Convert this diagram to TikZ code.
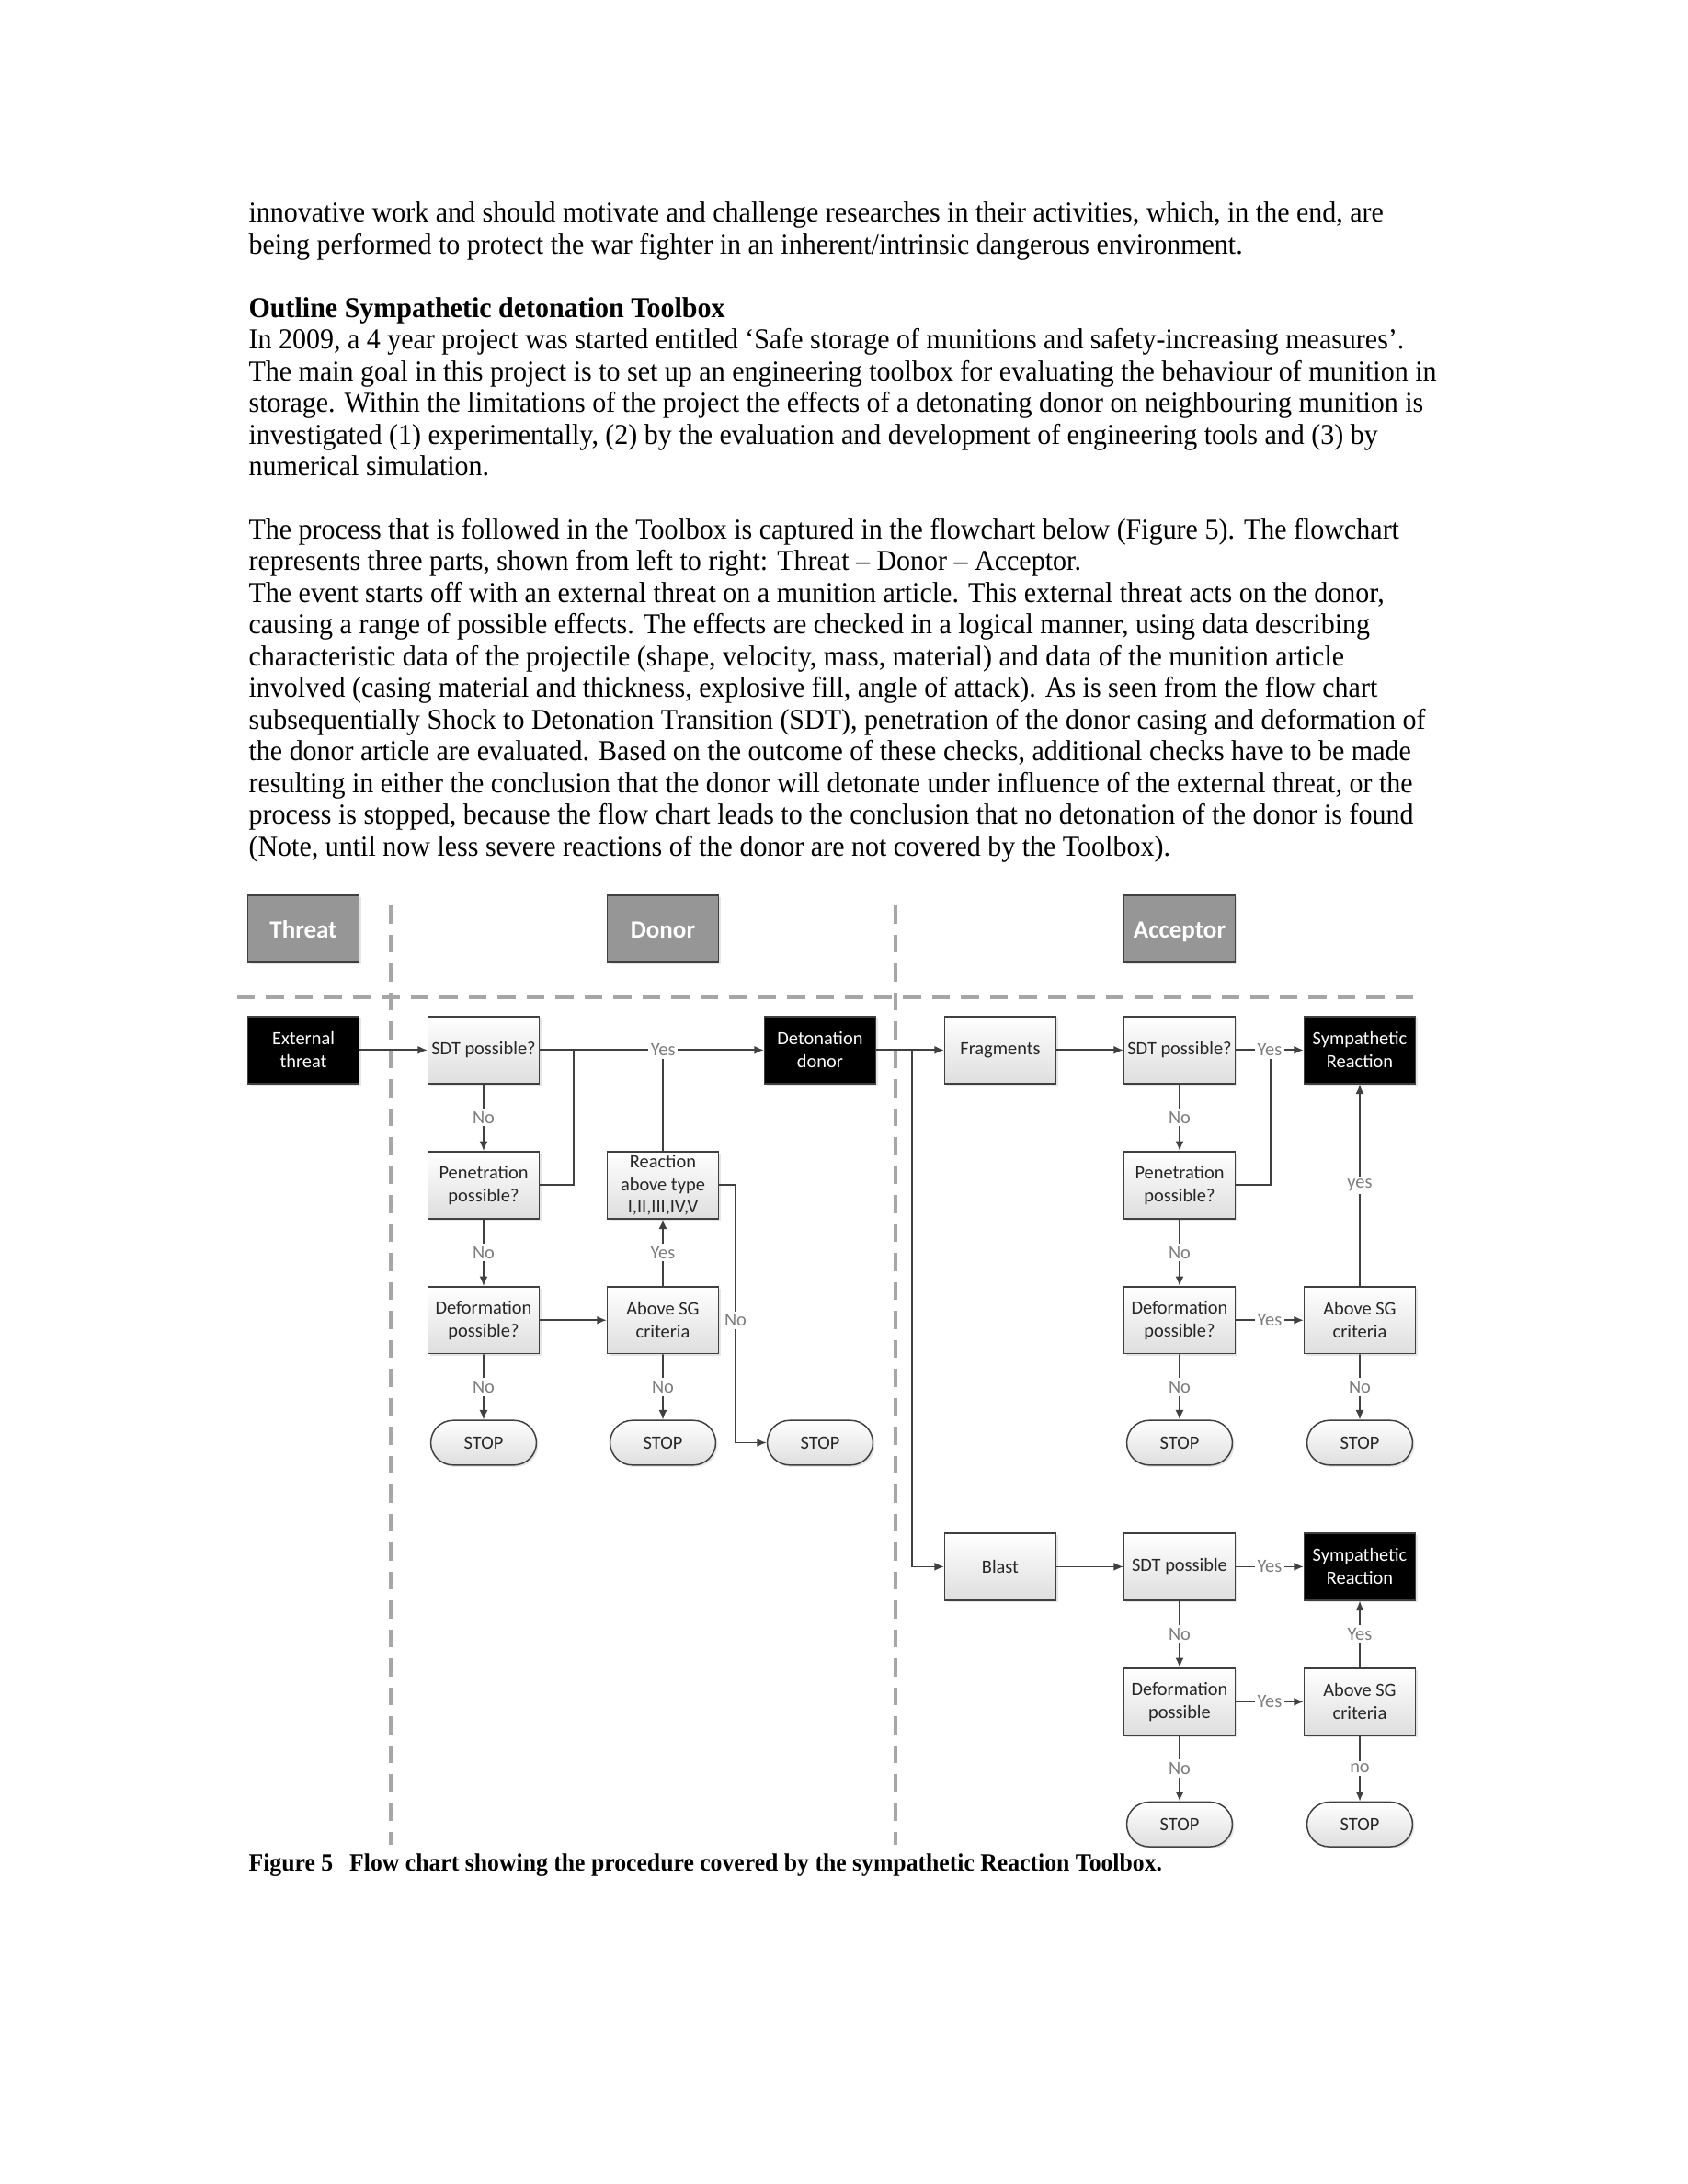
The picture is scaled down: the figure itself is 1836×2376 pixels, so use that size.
\documentclass[tikz,border=0pt]{standalone}
\usepackage{fontspec}
\setmainfont{Liberation Serif}[FakeStretch=0.952]
\newfontfamily\chartfam{Carlito}
\usepackage{tikz}
\usetikzlibrary{arrows.meta,shapes.misc,shadows,calc}
\usepackage{xcolor}
\definecolor{LineD} {RGB}{64, 64, 64}
\definecolor{BoxFill}{RGB}{222,222,222}
\definecolor{HeadG} {RGB}{150,150,150}
\definecolor{SepG}  {RGB}{166,166,166}
\definecolor{LblG}  {RGB}{125,125,125}
\newcommand{\chartfont}{\chartfam\fontsize{6.8}{8.3}\selectfont}
\newcommand{\hdrfont}{\chartfam\bfseries\fontsize{9}{10}\selectfont}
\newcommand{\bodyfont}{\fontsize{10.5}{11.49}\selectfont}

\tikzset{
  body/.style={anchor=base west,inner sep=0pt,align=left,font=\bodyfont},
  frame/.style={draw=LineD,line width=0.5pt,minimum width=40.3pt,minimum height=24.3pt,
    align=center,inner sep=1pt,font=\chartfont},
  box/.style={frame,top color=white,bottom color=BoxFill,text=black!85,
    drop shadow={shadow xshift=0.7pt,shadow yshift=-0.7pt,opacity=0.2}},
  blackbox/.style={frame,fill=black,text=white,
    drop shadow={shadow xshift=0.7pt,shadow yshift=-0.7pt,opacity=0.2}},
  stopbox/.style={box,rounded rectangle,minimum height=16.2pt},
  headbox/.style={frame,fill=HeadG,text=white,font=\hdrfont,text height=6.4pt,text depth=0pt,
    drop shadow={shadow xshift=0.7pt,shadow yshift=-0.7pt,opacity=0.2}},
  lbl/.style={fill=white,text=LblG,font=\chartfont,inner sep=1pt},
  link/.style={draw=LineD,line width=0.55pt},
  conn/.style={link,-{Latex[length=3.5pt,width=3pt]}},
  sep/.style={draw=SepG,line width=1.5pt,dash pattern=on 6.5pt off 4pt}
}

\begin{document}
\begin{tikzpicture}[x=0.3333pt,y=-0.3333pt]
  \useasboundingbox (0,0) rectangle (1836,2376);
  % page text (base = last line)
  \node[body] (intro) at (270,276.2) {innovative work and should motivate and challenge researches in their activities, which, in the end, are\\
    being performed to protect the war fighter in an inherent/intrinsic dangerous environment.};
  \node[body,font=\bodyfont\bfseries] (headline) at (270,345.1) {Outline Sympathetic detonation Toolbox};
  \node[body] (outline) at (270,517.5) {In 2009, a 4 year project was started entitled ‘Safe storage of munitions and safety-increasing measures’.\\
    The main goal in this project is to set up an engineering toolbox for evaluating the behaviour of munition in\\
    storage. Within the limitations of the project the effects of a detonating donor on neighbouring munition is\\
    investigated (1) experimentally, (2) by the evaluation and development of engineering tools and (3) by\\
    numerical simulation.};
  \node[body] (process) at (270,931.1) {The process that is followed in the Toolbox is captured in the flowchart below (Figure 5). The flowchart\\
    represents three parts, shown from left to right: Threat -- Donor -- Acceptor.\\
    The event starts off with an external threat on a munition article. This external threat acts on the donor,\\
    causing a range of possible effects. The effects are checked in a logical manner, using data describing\\
    characteristic data of the projectile (shape, velocity, mass, material) and data of the munition article\\
    involved (casing material and thickness, explosive fill, angle of attack). As is seen from the flow chart\\
    subsequentially Shock to Detonation Transition (SDT), penetration of the donor casing and deformation of\\
    the donor article are evaluated. Based on the outcome of these checks, additional checks have to be made\\
    resulting in either the conclusion that the donor will detonate under influence of the external threat, or the\\
    process is stopped, because the flow chart leads to the conclusion that no detonation of the donor is found\\
    (Note, until now less severe reactions of the donor are not covered by the Toolbox).};

  % lanes
  \draw[sep] (425.7,985) -- (425.7,2007);
  \draw[sep] (974,985) -- (974,2007);
  \draw[sep] (257.6,1084.7) -- (1537.7,1084.7);
  \node[headbox] (threat) at (330,1010.5) {Threat};
  \node[headbox] (donor) at (721,1010.5) {Donor};
  \node[headbox] (acceptor) at (1283,1010.5) {Acceptor};

  % threat and donor
  \node[blackbox] (ext) at (330,1142.3) {External\\threat};
  \node[box] (dsdt) at (526,1142.3) {SDT possible?};
  \node[blackbox] (deton) at (892,1142.3) {Detonation\\donor};
  \node[box] (dpen) at (526,1289.3) {Penetration\\possible?};
  \node[box] (dreac) at (721,1289.3) {Reaction\\above type\\I,II,III,IV,V};
  \node[box] (ddef) at (526,1436.2) {Deformation\\possible?};
  \node[box] (dsg) at (721,1436.2) {Above SG\\criteria};
  \node[stopbox] (dstop1) at (526,1569.5) {STOP};
  \node[stopbox] (dstop2) at (721,1569.5) {STOP};
  \node[stopbox] (dstop3) at (892,1569.5) {STOP};
  \coordinate (dj) at (624,1142.3);
  \coordinate (dn) at (800,1436.2);

  \draw[link] (dpen.east) -| (dj);
  \draw[link] (dreac.north) -- (dreac.north |- dsdt.east);
  \draw[conn] (ext) -- (dsdt);
  \draw[conn] (dsdt) -- node[lbl,pos=0.55]{Yes} (deton);
  \draw[conn] (dsdt) -- node[lbl]{No} (dpen);
  \draw[conn] (dpen) -- node[lbl]{No} (ddef);
  \draw[conn] (ddef) -- (dsg);
  \draw[conn] (ddef) -- node[lbl]{No} (dstop1);
  \draw[conn] (dsg) -- node[lbl]{Yes} (dreac);
  \draw[conn] (dsg) -- node[lbl]{No} (dstop2);
  \draw[conn] (dreac.east) -| (dn) node[lbl]{No} |- (dstop3);

  % acceptor
  \node[box] (frag) at (1088,1142.3) {Fragments};
  \node[box] (asdt) at (1283,1142.3) {SDT possible?};
  \node[blackbox] (asym) at (1479,1142.3) {Sympathetic\\Reaction};
  \node[box] (apen) at (1283,1289.3) {Penetration\\possible?};
  \node[box] (adef) at (1283,1436.2) {Deformation\\possible?};
  \node[box] (asg) at (1479,1436.2) {Above SG\\criteria};
  \node[stopbox] (astop1) at (1283,1569.5) {STOP};
  \node[stopbox] (astop2) at (1479,1569.5) {STOP};
  \node[box] (blast) at (1088,1704.4) {Blast};
  \node[box] (bsdt) at (1283,1704.4) {SDT possible};
  \node[blackbox] (bsym) at (1479,1704.4) {Sympathetic\\Reaction};
  \node[box] (bdef) at (1283,1851.3) {Deformation\\possible};
  \node[box] (bsg) at (1479,1851.3) {Above SG\\criteria};
  \node[stopbox] (bstop1) at (1283,1984.7) {STOP};
  \node[stopbox] (bstop2) at (1479,1984.7) {STOP};
  \coordinate (br) at (992,1142.3);
  \coordinate (aj) at (1382,1142.3);

  \draw[conn] (deton) -- (frag);
  \draw[conn] (br) |- (blast);
  \draw[conn] (frag) -- (asdt);
  \draw[link] (apen.east) -| (aj);
  \draw[conn] (asdt) -- node[lbl]{Yes} (asym);
  \draw[conn] (asdt) -- node[lbl]{No} (apen);
  \draw[conn] (apen) -- node[lbl]{No} (adef);
  \draw[conn] (adef) -- node[lbl]{Yes} (asg);
  \draw[conn] (asg) -- node[lbl]{yes} (asym);
  \draw[conn] (adef) -- node[lbl]{No} (astop1);
  \draw[conn] (asg) -- node[lbl]{No} (astop2);
  \draw[conn] (blast) -- (bsdt);
  \draw[conn] (bsdt) -- node[lbl]{Yes} (bsym);
  \draw[conn] (bsdt) -- node[lbl]{No} (bdef);
  \draw[conn] (bdef) -- node[lbl]{Yes} (bsg);
  \draw[conn] (bsg) -- node[lbl]{Yes} (bsym);
  \draw[conn] (bdef) -- node[lbl]{No} (bstop1);
  \draw[conn] (bsg) -- node[lbl]{no} (bstop2);

  \node[body,font=\bfseries\fontsize{9}{10}\selectfont] (caption) at (270,2035) {Figure 5\hspace{6pt}Flow chart showing the procedure covered by the sympathetic Reaction Toolbox.};
\end{tikzpicture}
\end{document}
